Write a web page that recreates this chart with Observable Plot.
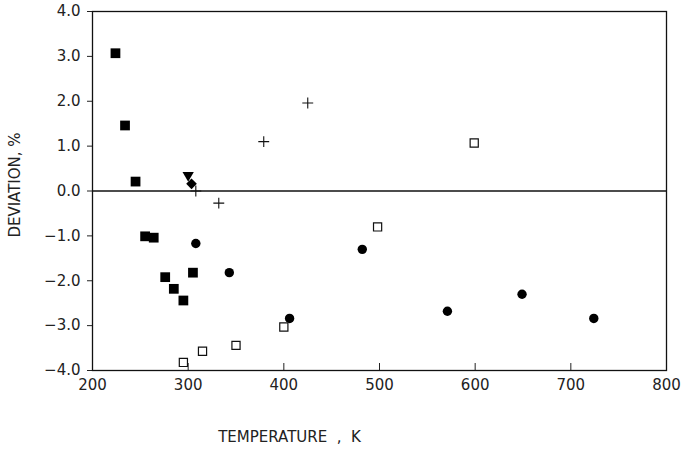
<!DOCTYPE html>
<html><head><meta charset="utf-8">
<script src="https://cdn.jsdelivr.net/npm/d3@7"></script>
<script src="https://cdn.jsdelivr.net/npm/@observablehq/plot@0.6"></script>
<style>body{margin:0;background:#fff}svg{display:block}</style>
</head><body><div id="chart"></div>
<script>
const xTicks = [200, 300, 400, 500, 600, 700, 800];
const yTicks = [-4, -3, -2, -1, 0, 1, 2, 3, 4];

// filled squares
const sqT   = [224, 234, 245, 255, 264, 276, 285, 295, 305];
const sqDev = [3.07, 1.46, 0.21, -1.01, -1.04, -1.92, -2.18, -2.44, -1.82];
// filled circles
const circT   = [308, 343, 406, 482, 571, 649, 724];
const circDev = [-1.17, -1.82, -2.84, -1.30, -2.68, -2.30, -2.84];
// open squares
const openT   = [295, 315, 350, 400, 498, 599];
const openDev = [-3.82, -3.57, -3.44, -3.03, -0.80, 1.07];
// plus signs
const plusT   = [308, 332, 379, 425];
const plusDev = [0.0, -0.27, 1.10, 1.96];
// inverted triangle
const triT = [300];
const triDev = [0.35];
// diamond
const diaT = [303.5];
const diaDev = [0.16];

const zip = (xs, ys) => xs.map((x, i) => ({x, y: ys[i]}));

const chart = Plot.plot({
  width: 687,
  height: 450,
  marginLeft: 92,
  marginRight: 21,
  marginTop: 11,
  marginBottom: 80,
  style: {fontFamily: "DejaVu Sans, sans-serif", fontSize: "15px", color: "#222", background: "#fff"},
  x: {domain: [200, 800]},
  y: {domain: [-4, 4]},
  marks: [
    Plot.axisX({ticks: xTicks, tickSize: 0, tickPadding: 9, tickFormat: d3.format("d"), label: null}),
    Plot.ruleX(xTicks, {x: d => d, insetTop: 352, stroke: "#222", strokeWidth: 1}),
    Plot.axisY({ticks: yTicks, tickSize: 5, tickPadding: 7, tickFormat: d3.format(".1f"), label: null, stroke: "#222"}),
    Plot.frame({stroke: "#111", strokeWidth: 1.3}),
    Plot.ruleY([0], {stroke: "#111", strokeWidth: 1.3}),
    Plot.dot(zip(sqT, sqDev), {x: "x", y: "y", symbol: "square", r: 5.5, fill: "#000", stroke: "none"}),
    Plot.dot(zip(circT, circDev), {x: "x", y: "y", symbol: "circle", r: 4.7, fill: "#000", stroke: "none"}),
    Plot.dot(zip(openT, openDev), {x: "x", y: "y", symbol: "square", r: 4.6, fill: "#fff", stroke: "#111", strokeWidth: 1.2}),
    Plot.dot(zip(plusT, plusDev), {x: "x", y: "y", symbol: "plus", r: 3.6, stroke: "#111", strokeWidth: 1.1}),
    Plot.dot(zip(triT, triDev), {x: "x", y: "y", symbol: "triangle2", r: 5.4, rotate: 180, fill: "#000", stroke: "none"}),
    Plot.dot(zip(diaT, diaDev), {x: "x", y: "y", symbol: "diamond2", r: 4.8, fill: "#000", stroke: "none"}),
    Plot.text(["TEMPERATURE  ,  K"], {frameAnchor: "bottom", dx: -90, dy: 67, textAnchor: "middle", lineAnchor: "middle", fill: "#222", fontSize: 15}),
    Plot.text(["DEVIATION, %"], {frameAnchor: "left", dx: -77, dy: -6, rotate: -90, textAnchor: "middle", lineAnchor: "middle", fill: "#222", fontSize: 15})
  ]
});
document.getElementById("chart").appendChild(chart);
</script>
</body></html>
